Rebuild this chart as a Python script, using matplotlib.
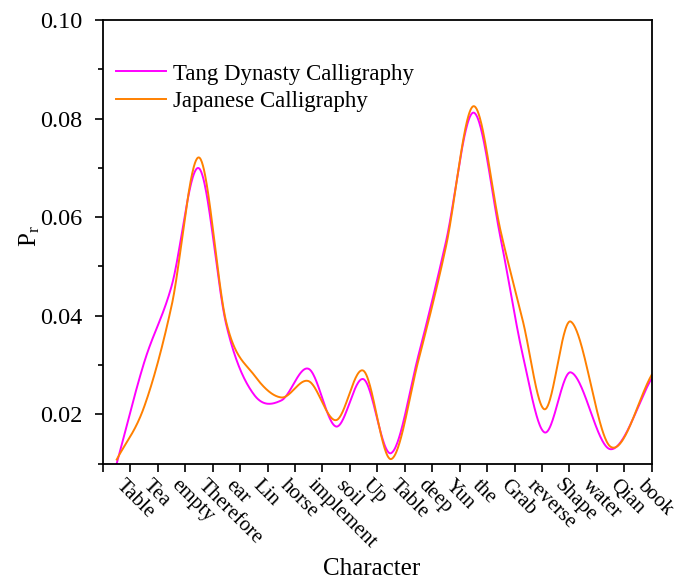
import numpy as np
import matplotlib
matplotlib.use("Agg")
import matplotlib.pyplot as plt
from matplotlib.transforms import ScaledTranslation

# ---------------- data ----------------
categories = ["Table", "Tea", "empty", "Therefore", "ear", "Lin", "horse",
              "implement", "soil", "Up", "Table", "deep", "Yun", "the",
              "Grab", "reverse", "Shape", "water", "Qian", "book"]
x_pos = [0.5, 1.5, 2.5, 3.5, 4.5, 5.5, 6.5, 7.5, 8.5, 9.5, 10.5, 11.5,
         12.5, 13.5, 14.5, 15.3, 16.1, 17.05, 18.5, 20.0]
tang = [0.0100, 0.0305, 0.0460, 0.0699, 0.0380, 0.0240, 0.0228, 0.0292,
        0.0175, 0.0271, 0.0121, 0.0320, 0.0550, 0.0812, 0.0555, 0.0320,
        0.0163, 0.0285, 0.0129, 0.0273]
japan = [0.0108, 0.0215, 0.0420, 0.0721, 0.0385, 0.0280, 0.0234, 0.0267,
         0.0188, 0.0288, 0.0109, 0.0310, 0.0540, 0.0825, 0.0570, 0.0390,
         0.0210, 0.0388, 0.0134, 0.0280]
series_names = ["Tang Dynasty Calligraphy", "Japanese Calligraphy"]
y_major = [0.02, 0.04, 0.06, 0.08, 0.10]
y_minor = [0.01, 0.03, 0.05, 0.07, 0.09]


def smooth_curve(x, y, xs):
    """Catmull-Rom style cubic Hermite curve through the points."""
    x = np.asarray(x, float)
    y = np.asarray(y, float)
    n = len(x)
    h = np.diff(x)
    d = np.zeros(n)
    d[1:-1] = (y[2:] - y[:-2]) / (x[2:] - x[:-2])
    d[0] = (y[1] - y[0]) / h[0]
    d[-1] = (y[-1] - y[-2]) / h[-1]
    idx = np.clip(np.searchsorted(x, xs) - 1, 0, n - 2)
    t = (xs - x[idx]) / h[idx]
    h00 = 2 * t ** 3 - 3 * t ** 2 + 1
    h10 = t ** 3 - 2 * t ** 2 + t
    h01 = -2 * t ** 3 + 3 * t ** 2
    h11 = t ** 3 - t ** 2
    return (h00 * y[idx] + h10 * h[idx] * d[idx] + h01 * y[idx + 1]
            + h11 * h[idx] * d[idx + 1])


plt.rcParams["font.family"] = ["Liberation Serif", "DejaVu Serif"]
plt.rcParams["mathtext.fontset"] = "custom"
plt.rcParams["mathtext.rm"] = "Liberation Serif"
plt.rcParams["mathtext.it"] = "Liberation Serif:italic"

fig = plt.figure(figsize=(6.78, 5.81), dpi=100)
ax = fig.add_axes([103 / 678, 1 - 463.5 / 581, (651.7 - 103) / 678, (463.5 - 20) / 581])

xs = np.linspace(x_pos[0], x_pos[-1], 1000)
ax.plot(xs, smooth_curve(x_pos, tang, xs), color="#FF00FF", lw=1.4,
        label=series_names[0])
ax.plot(xs, smooth_curve(x_pos, japan, xs), color="#FF8000", lw=1.4,
        label=series_names[1])

ax.set_xlim(0, 20)
ax.set_ylim(0.01, 0.10)

ax.set_yticks(y_major)
ax.set_yticklabels([f"{v:.2f}" for v in y_major], fontsize=17.5)
ax.set_yticks(y_minor, minor=True)

ax.tick_params(axis="both", which="major", direction="out", length=6,
               width=1.2, pad=3)
ax.tick_params(axis="y", which="major", pad=9)
ax.tick_params(axis="y", which="minor", direction="out", length=3.5, width=1.2)
for s in ax.spines.values():
    s.set_linewidth(1.3)

ax.set_xticks(range(0, 21))
ax.set_xticklabels([""] + categories, rotation=-45, ha="left", va="top",
                   rotation_mode="anchor", fontsize=15)
off = ScaledTranslation(-5 / 100, 0, fig.dpi_scale_trans)
for lab in ax.get_xticklabels():
    lab.set_transform(lab.get_transform() + off)

ax.set_xlabel("Character", fontsize=18)
ax.xaxis.set_label_coords(0.49, -0.212)
ax.set_ylabel(r"P$_{\mathrm{r}}$", fontsize=18)
ax.yaxis.set_label_coords(-0.112, 0.513)

ax.legend(loc="upper left", bbox_to_anchor=(0.0237, 0.902), frameon=False,
          fontsize=16.5, handlelength=2.2, handletextpad=0.3,
          labelspacing=0.3, borderpad=0, borderaxespad=0)

fig.savefig("out.png", dpi=100)
